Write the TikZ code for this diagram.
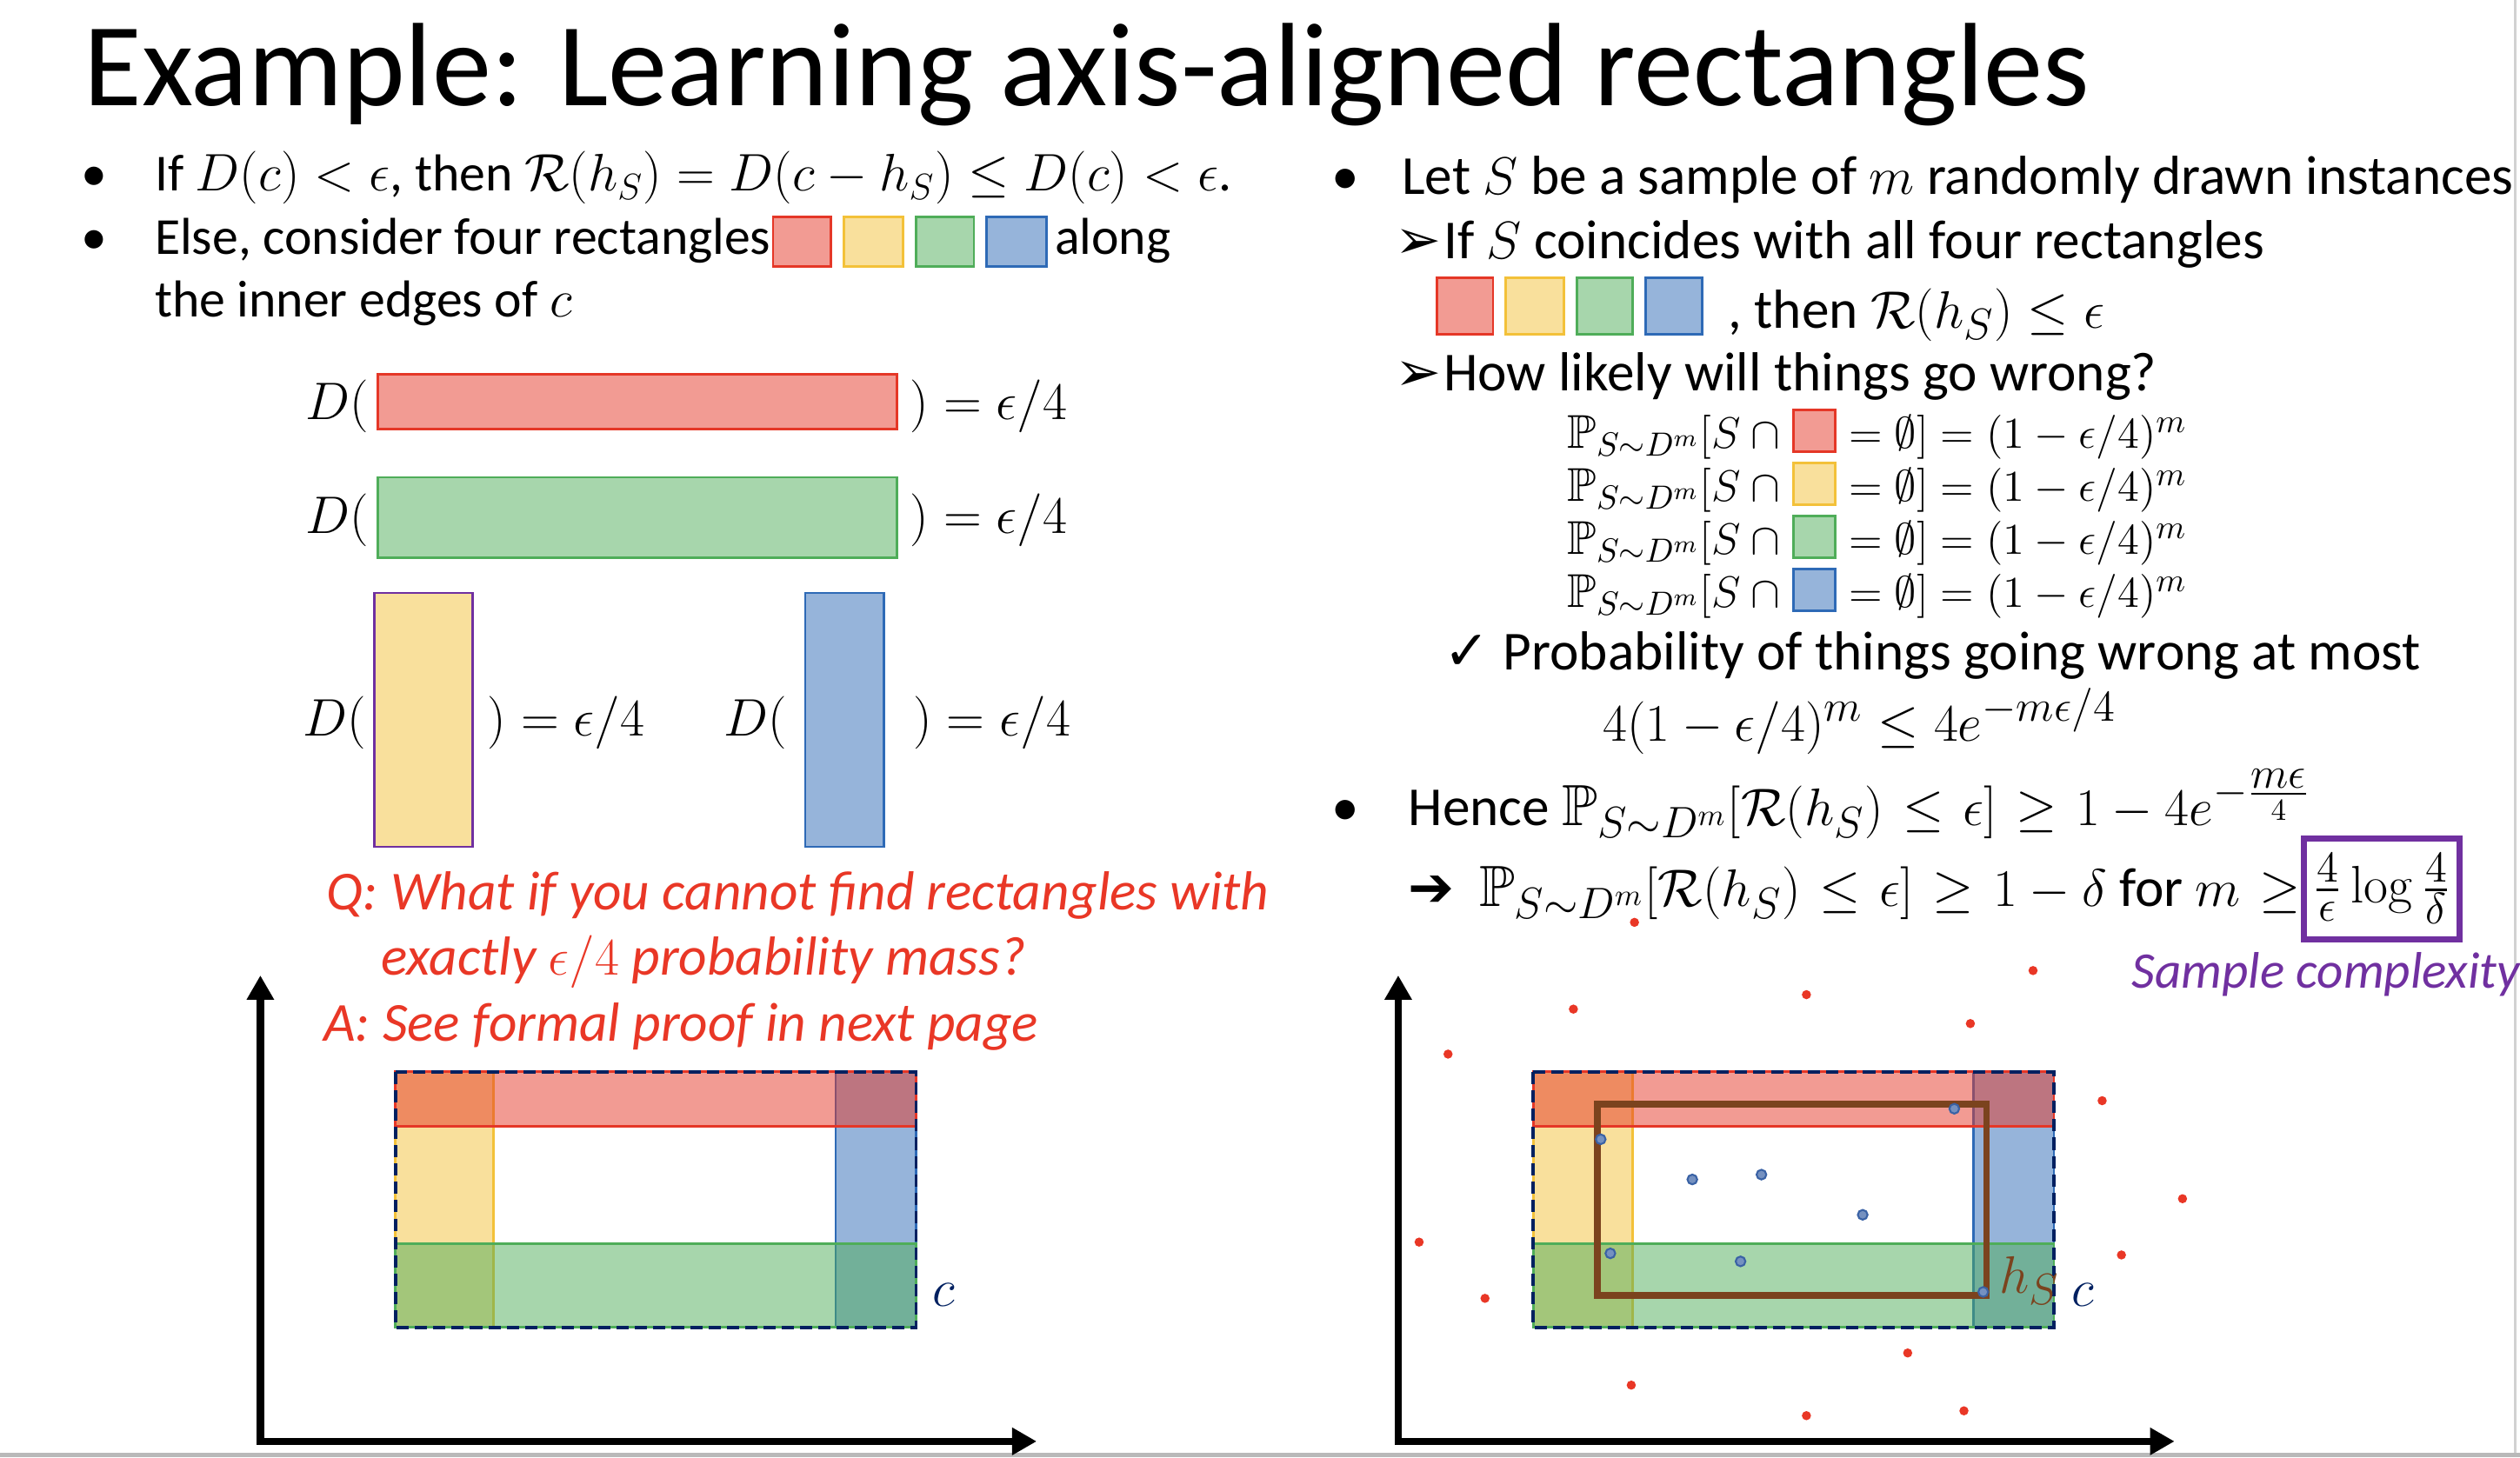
\documentclass[tikz,border=0pt]{standalone}
\usepackage{amsmath}
\usepackage{amssymb}
\usepackage[no-math]{fontspec}
\setmainfont{Carlito}
\newfontfamily\dingfont{DejaVu Sans}
\usepackage{xcolor}
\usepackage{tikz}
\usetikzlibrary{arrows.meta, positioning, calc}

\definecolor{bandred}{RGB}{229,55,39}
\definecolor{bandyellow}{RGB}{243,193,57}
\definecolor{bandgreen}{RGB}{79,173,89}
\definecolor{bandblue}{RGB}{46,106,182}
\definecolor{cnavy}{RGB}{0,32,96}
\definecolor{hbrown}{RGB}{123,67,30}
\definecolor{qred}{RGB}{233,55,38}
\definecolor{cpurple}{RGB}{112,48,160}
\definecolor{ptblue}{RGB}{58,98,165}

% left column: text 17pt, math 18.5pt; right column: text 18pt, math 19pt
\DeclareMathSizes{17}{18.5}{13}{10}
\DeclareMathSizes{18}{19}{13.5}{10}
\newcommand{\slidefont}{\fontsize{17}{21}\selectfont}
\newcommand{\rightfont}{\fontsize{18}{22}\selectfont}
\newcommand{\probfont}{\fontsize{15.5}{19}\selectfont}
\newcommand{\titlefont}{\fontsize{38.8}{46}\selectfont}

\tikzset{
  txt/.style={inner sep=0pt, anchor=base west, font=\slidefont},
  rtxt/.style={txt, font=\rightfont},
  bul/.style={txt},
  ding/.style={txt, font=\rightfont\dingfont\bfseries},
  qa/.style={txt, font=\rightfont\itshape, text=qred},
  redband/.style={draw=bandred, fill=bandred, fill opacity=0.5, line width=0.8pt},
  yellowband/.style={draw=bandyellow, fill=bandyellow, fill opacity=0.5, line width=0.8pt},
  greenband/.style={draw=bandgreen, fill=bandgreen, fill opacity=0.5, line width=0.8pt},
  blueband/.style={draw=bandblue, fill=bandblue, fill opacity=0.5, line width=0.8pt},
  concept/.style={draw=cnavy, line width=1.1pt, dash pattern=on 4pt off 2pt},
  axis/.style={line width=2.4pt, {Triangle[length=8pt,width=8.5pt]}-{Triangle[length=8pt,width=8.5pt]}},
  redpt/.style={fill=qred},
  bluept/.style={fill=ptblue!70, draw=ptblue, line width=0.6pt}
}

\begin{document}
\begin{tikzpicture}[x=0.01848cm, y=-0.01848cm]
    \useasboundingbox (0,0) rectangle (1568,907);
    \fill[gray!55] (0,904) rectangle (1568,907);
    \draw[gray!35, line width=0.6pt] (1565,0) -- (1565,904);

    % Title
    \node[txt, font=\titlefont] (title) at (52,66) {Example: Learning axis-aligned rectangles};

    % Left column
    \node[bul] (lb1) at (50,119) {•};
    \node[txt] (l1) at (96,119) {If $D(c)<\epsilon$, then $\mathcal{R}(h_S)=D(c-h_S)\le D(c)<\epsilon$.};
    \node[bul] (lb2) at (50,158) {•};
    \node[txt] (l2) at (96,158) {Else, consider four rectangles};
    \draw[redband] (481,135) rectangle (517,166);
    \draw[yellowband] (525,135) rectangle (562,166);
    \draw[greenband] (570,135) rectangle (606,166);
    \draw[blueband] (614,135) rectangle (651,166);
    \node[txt] (l2b) at (656,158) {along};
    \node[txt] (l3) at (96,197) {the inner edges of $c$};

    % Four rectangles with mass eps/4
    \draw[redband] (235,233) rectangle (558,267);
    \node[txt, anchor=base east] (dr) at (230,261) {$D($};
    \node[txt] (er) at (566,261) {$)=\epsilon/4$};
    \draw[greenband] (235,297) rectangle (558,347);
    \node[txt, anchor=base east] (dg) at (230,332) {$D($};
    \node[txt] (eg) at (566,332) {$)=\epsilon/4$};
    \draw[yellowband, draw=cpurple] (233,369) rectangle (294,527);
    \node[txt, anchor=base east] (dy) at (228,458) {$D($};
    \node[txt] (ey) at (303,458) {$)=\epsilon/4$};
    \draw[blueband] (501,369) rectangle (550,527);
    \node[txt, anchor=base east] (db) at (490,458) {$D($};
    \node[txt] (eb) at (568,458) {$)=\epsilon/4$};

    % Question
    \node[qa] (q1) at (203,566) {Q: What if you cannot find rectangles with};
    \node[qa] (q2) at (237,607) {exactly $\epsilon/4$ probability mass?};
    \node[qa] (q3) at (201,648) {A: See formal proof in next page};

    % Left plot
    \draw[axis] (162,607) -- (162,897) -- (645,897);
    \draw[yellowband] (246,667) rectangle (307,826);
    \draw[blueband] (520,667) rectangle (570,826);
    \draw[redband] (246,667) rectangle (570,701);
    \draw[greenband] (246,774) rectangle (570,826);
    \draw[concept] (246,667) rectangle (570,826);
    \node[font=\rightfont, text=cnavy] (cl) at (587,806) {$c$};

    % Right column
    \node[bul, font=\rightfont] (rb1) at (828,121) {•};
    \node[rtxt] (r1) at (872,121) {Let $S$ be a sample of $m$ randomly drawn instances};
    \node[ding] (ra1) at (868,161) {➢};
    \node[rtxt] (r2) at (898,161) {If $S$ coincides with all four rectangles};
    \draw[redband] (894,173) rectangle (929,208);
    \draw[yellowband] (937,173) rectangle (973,208);
    \draw[greenband] (981,173) rectangle (1016,208);
    \draw[blueband] (1024,173) rectangle (1059,208);
    \node[rtxt] (r3) at (1075,204) {, then $\mathcal{R}(h_S)\le\epsilon$};
    \node[ding] (ra2) at (868,243) {➢};
    \node[rtxt] (r4) at (898,243) {How likely will things go wrong?};

    % Failure probabilities
    \foreach \y/\band in {279/redband, 312/yellowband, 345/greenband, 378/blueband} {
        \node[txt, font=\probfont, anchor=base east] at (1114,\y) {$\mathbb{P}_{S\sim D^m}[S\cap{}$};
        \draw[\band] (1116,\y-24) rectangle (1142,\y+2);
        \node[txt, font=\probfont] at (1150,\y) {$=\emptyset]=(1-\epsilon/4)^m$};
    }
    \node[ding, font=\rightfont\dingfont] (rc) at (898,417) {✓};
    \node[rtxt] (r5) at (935,417) {Probability of things going wrong at most};
    \node[txt, font=\fontsize{19}{23}\selectfont] (r6) at (997,461) {$4(1-\epsilon/4)^m\le 4e^{-m\epsilon/4}$};

    % Conclusion
    \node[bul, font=\rightfont] (rb2) at (828,514) {•};
    \node[rtxt] (r7) at (876,514) {\thickmuskip=6.5mu Hence $\mathbb{P}_{S\sim D^m}[\mathcal{R}(h_S)\le\epsilon]\ge 1-4e^{-\frac{\scriptstyle m\epsilon}{4}}$};
    \node[ding] (ra3) at (876,564) {➔};
    \node[rtxt] (r8) at (920,564) {\thickmuskip=6.5mu $\mathbb{P}_{S\sim D^m}[\mathcal{R}(h_S)\le\epsilon]\ge 1-\delta$ for $m\ge$};
    \node[draw=cpurple, line width=2pt, minimum width=51pt, minimum height=33pt, inner sep=0pt, font=\rightfont] (bound) at (1482,553) {$\frac{4}{\epsilon}\log\frac{4}{\delta}$};
    \node[txt, font=\fontsize{16.8}{20}\selectfont\itshape, text=cpurple] (sc) at (1326,615) {Sample complexity};

    % Right plot
    \draw[axis] (870,607) -- (870,897) -- (1353,897);
    \draw[yellowband] (954,667) rectangle (1016,826);
    \draw[blueband] (1228,667) rectangle (1278,826);
    \draw[redband] (954,667) rectangle (1278,701);
    \draw[greenband] (954,774) rectangle (1278,826);
    \draw[concept] (954,667) rectangle (1278,826);
    \draw[hbrown, line width=2.2pt] (994,687) rectangle (1236,806);
    \foreach \p in {(1265,604),(1124,619),(979,628),(1226,637),(901,656),(1308,685),(1358,746),(883,773),(1320,781),(924,808),(1187,842),(1015,862),(1124,881),(1222,878),(1017,574)}
        \fill[redpt] \p circle (1.5pt);
    \foreach \p in {(1216,690),(996,709),(1053,734),(1096,731),(1159,756),(1002,780),(1083,785),(1234,804)}
        \filldraw[bluept] \p circle (1.6pt);
    \node[font=\rightfont, text=hbrown] (hl) at (1263,797) {$h_S$};
    \node[font=\rightfont, text=cnavy] (cr) at (1296,806) {$c$};
\end{tikzpicture}
\end{document}
